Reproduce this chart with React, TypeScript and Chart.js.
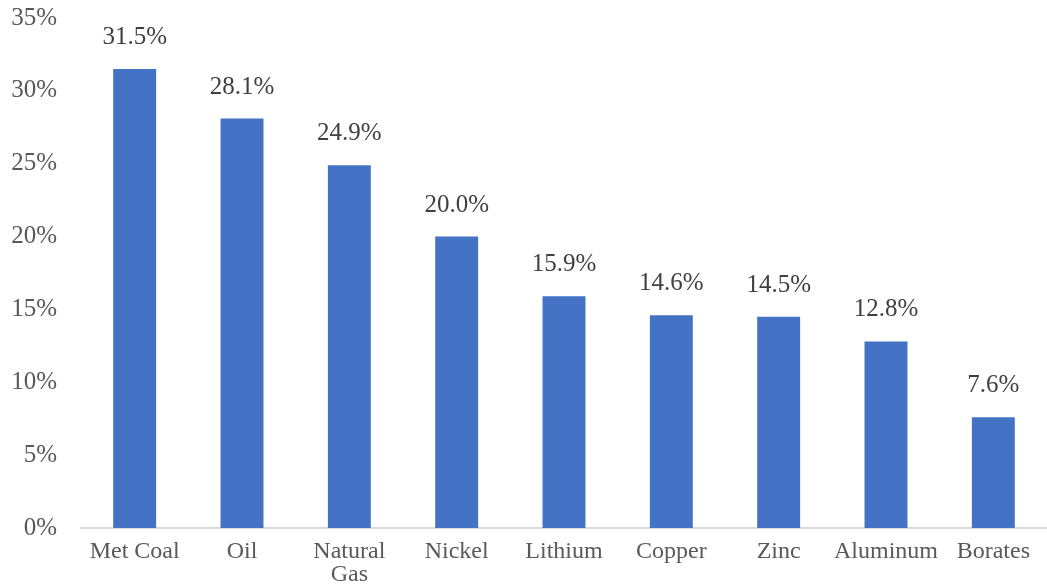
import React, { useEffect, useRef } from "react";
import { Chart, registerables } from "chart.js";

Chart.register(...registerables);

const categories: (string | string[])[] = ["Met Coal", "Oil", ["Natural", "Gas"], "Nickel", "Lithium", "Copper", "Zinc", "Aluminum", "Borates"];
const values: number[] = [31.5, 28.1, 24.9, 20.0, 15.9, 14.6, 14.5, 12.8, 7.6];
const yTicks: number[] = [0, 5, 10, 15, 20, 25, 30, 35];

const FONT = "'Liberation Serif', 'Times New Roman', serif";

const labelPlugin = {
  id: "barLabels",
  afterDatasetsDraw(chart: any) {
    const ctx = chart.ctx;
    const meta = chart.getDatasetMeta(0);
    ctx.save();
    ctx.font = `25px ${FONT}`;
    ctx.fillStyle = "#404040";
    ctx.textAlign = "center";
    ctx.textBaseline = "alphabetic";
    meta.data.forEach((bar: any, i: number) => {
      ctx.fillText(values[i].toFixed(1) + "%", bar.x, bar.y - 25);
    });
    ctx.restore();
  },
};

export default function App() {
  const ref = useRef<HTMLCanvasElement>(null);
  useEffect(() => {
    document.body.style.margin = "0";
    const chart = new Chart(ref.current!, {
      type: "bar",
      data: {
        labels: categories,
        datasets: [
          {
            data: values,
            backgroundColor: "#4472C4",
            barPercentage: 0.4,
            categoryPercentage: 1,
          },
        ],
      },
      options: {
        animation: false,
        responsive: false,
        layout: { padding: { top: 18, right: 0, left: 0, bottom: 0 } },
        plugins: { legend: { display: false }, tooltip: { enabled: false } },
        scales: {
          x: {
            grid: { display: false },
            border: { display: true, color: "#d9d9d9", width: 2 },
            ticks: {
              color: "#595959",
              font: { family: FONT, size: 24, lineHeight: 0.96 },
              padding: 4,
              maxRotation: 0,
              autoSkip: false,
            },
            afterFit: (s: any) => {
              s.height = 58;
              s.paddingLeft = 0;
              s.paddingRight = 0;
            },
          },
          y: {
            min: 0,
            max: 35,
            afterBuildTicks: (s: any) => {
              s.ticks = yTicks.map((v) => ({ value: v }));
            },
            grid: { display: false },
            border: { display: false },
            ticks: {
              color: "#595959",
              font: { family: FONT, size: 25 },
              padding: 16,
              callback: (v: any) => v + "%",
            },
            afterFit: (s: any) => {
              s.width = 81;
              s.paddingTop = 0;
              s.paddingBottom = 0;
            },
          },
        },
      },
      plugins: [labelPlugin],
    });
    return () => chart.destroy();
  }, []);
  return (
    <div style={{ position: "absolute", left: 0, top: 0, width: 1047, height: 586 }}>
      <canvas ref={ref} width={1047} height={586} style={{ width: 1047, height: 586 }} />
    </div>
  );
}
